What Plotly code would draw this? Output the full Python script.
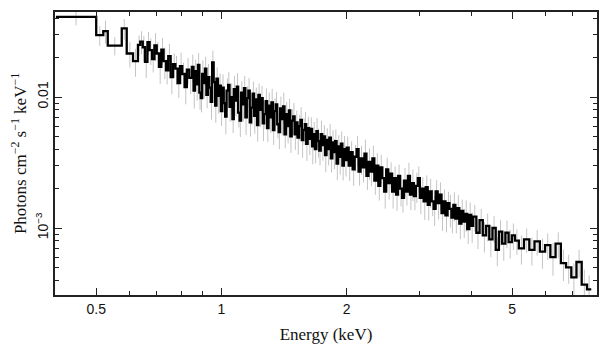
import plotly.graph_objects as go
import numpy as np

# Bin edges (keV)
bin_edges = [
    0.40, 0.50, 0.52, 0.533, 0.576, 0.592, 0.613, 0.630, 0.638,
    0.647, 0.655, 0.664, 0.672, 0.681, 0.690, 0.699, 0.708, 0.717, 0.726,
    0.736, 0.745, 0.755, 0.765, 0.775, 0.785, 0.795, 0.805, 0.816, 0.826, 0.837,
    0.850, 0.857, 0.864, 0.871, 0.878, 0.885, 0.892, 0.899, 0.906, 0.913,
    0.920, 0.928, 0.935, 0.943, 0.950, 0.958, 0.966, 0.973, 0.981, 0.989,
    0.997, 1.005, 1.013, 1.021, 1.029, 1.038, 1.046, 1.054, 1.063, 1.071,
    1.080, 1.089, 1.097, 1.106, 1.115, 1.124, 1.133, 1.142, 1.151, 1.161,
    1.170, 1.179, 1.189, 1.198, 1.208, 1.218, 1.227, 1.237, 1.247, 1.257,
    1.267, 1.278, 1.288, 1.298, 1.309, 1.319, 1.330, 1.341, 1.351, 1.362,
    1.373, 1.384, 1.396, 1.407, 1.418, 1.430, 1.441, 1.453, 1.464, 1.476,
    1.488, 1.500, 1.512, 1.524, 1.537, 1.549, 1.561, 1.574, 1.587, 1.599,
    1.612, 1.625, 1.638, 1.652, 1.665, 1.678, 1.692, 1.705, 1.719, 1.733,
    1.747, 1.761, 1.775, 1.789, 1.804, 1.818, 1.833, 1.848, 1.862, 1.877,
    1.892, 1.908, 1.923, 1.938, 1.954, 1.970, 1.985,
    2.001, 2.023, 2.045, 2.068, 2.091, 2.114, 2.137, 2.160, 2.184, 2.208,
    2.232, 2.257, 2.282, 2.307, 2.332, 2.358, 2.384, 2.410, 2.436, 2.463,
    2.490, 2.518, 2.545, 2.573, 2.602, 2.630, 2.659, 2.689, 2.718, 2.748,
    2.778, 2.809, 2.840, 2.871, 2.903, 2.935, 2.967, 3.000, 3.033, 3.066,
    3.100, 3.134, 3.168, 3.203, 3.238, 3.274, 3.310, 3.346, 3.383, 3.420,
    3.458, 3.496, 3.534, 3.573, 3.612, 3.652, 3.692, 3.733, 3.774, 3.815,
    3.857, 3.900, 3.943, 3.986,
    4.030, 4.102, 4.176, 4.251, 4.328, 4.406, 4.485, 4.566, 4.648, 4.732,
    4.817, 4.904, 4.992,
    5.08, 5.19, 5.34, 5.50, 5.66, 5.83, 6.00, 6.18, 6.36, 6.55, 6.74, 6.94,
    7.14, 7.35, 7.57, 7.75,
]

# Flux (photons cm^-2 s^-1 keV^-1) per bin
flux = [
    0.0410, 0.0297, 0.0319, 0.0247, 0.0334, 0.0215, 0.0188, 0.0250, 0.0265,
    0.0240, 0.0186, 0.0262, 0.0228, 0.0195, 0.0248, 0.0215, 0.0170, 0.0230, 0.0188,
    0.0160, 0.0205, 0.0142, 0.0178, 0.0165, 0.0128, 0.0172, 0.0150, 0.0119, 0.0162, 0.0140,
    0.0170, 0.0112, 0.0158, 0.0125, 0.0176, 0.0108, 0.0098, 0.0150, 0.0128, 0.0165,
    0.0104, 0.0142, 0.0118, 0.0092, 0.0184, 0.0130, 0.0086, 0.0138, 0.0102, 0.0122,
    0.0078, 0.0118, 0.0090, 0.0071, 0.0112, 0.0124, 0.0084, 0.0100, 0.0068, 0.0115,
    0.0094, 0.0120, 0.0076, 0.0066, 0.0108, 0.0088, 0.0117, 0.0070, 0.0098, 0.0112,
    0.0064, 0.0083, 0.0106, 0.0072, 0.0096, 0.0061, 0.0104, 0.0080, 0.0098, 0.0063,
    0.0074, 0.0093, 0.0058, 0.0086, 0.0070, 0.0091, 0.0056, 0.0078, 0.0088, 0.0062,
    0.0054, 0.0082, 0.0068, 0.0085, 0.0052, 0.0074, 0.0060, 0.0079, 0.0050, 0.0066,
    0.0071, 0.0052, 0.0064, 0.0049, 0.0060, 0.0067, 0.0047, 0.0056, 0.0062, 0.0044,
    0.0058, 0.0048, 0.0057, 0.0042, 0.0052, 0.0040, 0.0055, 0.0046, 0.0039, 0.0052,
    0.0043, 0.0050, 0.0036, 0.0047, 0.0040, 0.0049, 0.0034, 0.0045, 0.0038, 0.0046,
    0.0031, 0.0042, 0.0035, 0.0044, 0.0030, 0.0040, 0.0033,
    0.0041, 0.0030, 0.0038, 0.0028, 0.0035, 0.0040, 0.0027, 0.0034, 0.0029, 0.0037,
    0.0025, 0.0032, 0.0027, 0.0034, 0.0023, 0.0030, 0.0021, 0.0029, 0.0024, 0.0019,
    0.0028, 0.0022, 0.0026, 0.0019, 0.0024, 0.0018, 0.0025, 0.0020, 0.0017, 0.0023,
    0.0019, 0.0025, 0.0018, 0.0022, 0.00175, 0.0021, 0.0024, 0.0017, 0.0020, 0.0016,
    0.00205, 0.0015, 0.0019, 0.0016, 0.0014, 0.0019, 0.00155, 0.0018, 0.0013, 0.0016,
    0.00125, 0.00155, 0.0014, 0.0012, 0.0015, 0.00118, 0.00142, 0.00108, 0.00135, 0.00112,
    0.00128, 0.00098, 0.00126, 0.00104,
    0.00122, 0.00092, 0.00115, 0.00088, 0.00104, 0.00082, 0.00100, 0.00068, 0.00094, 0.00076,
    0.00092, 0.00078, 0.00088,
    0.00080, 0.00070, 0.00082, 0.00068, 0.00079, 0.00066, 0.00074, 0.00060, 0.00076,
    0.00054, 0.00050, 0.00042, 0.00055, 0.00037, 0.00034,
]

# 1-sigma error as percent of flux
err_pct = [
    14, 17, 20, 16, 18, 22, 24, 18, 20,
    22, 25, 20, 23, 21, 24, 22, 26, 23, 27, 22, 24, 26, 21, 25, 23, 27, 22, 26, 23, 25,
    24, 27, 22, 25, 23, 26, 22, 27, 24, 23,
    21, 26, 24, 27, 23, 25, 26, 22, 27, 24,
    23, 26, 22, 27, 24, 25, 23, 27, 22, 26,
    24, 27, 23, 25, 22, 26, 24, 27, 23, 25,
    22, 26, 24, 27, 23, 25, 22, 26, 24, 27,
    23, 25, 22, 26, 24, 27, 23, 25, 24, 22,
    26, 23, 25, 27, 22, 24, 26, 23, 25, 22,
    27, 24, 23, 26, 22, 25, 27, 23, 24, 26,
    22, 25, 23, 27, 24, 22, 26, 25, 23, 27,
    24, 22, 26, 23, 25, 27, 22, 24, 26, 23,
    25, 22, 27, 24, 23, 26, 25,
    22, 24, 21, 25, 23, 26, 22, 25, 23, 28,
    22, 27, 23, 25, 22, 24, 23, 25, 22, 26,
    23, 25, 22, 26, 23, 25, 22, 27, 23, 25,
    22, 26, 24, 27, 22, 26, 23, 25, 22, 28,
    23, 24, 25, 23, 26, 22, 25, 24, 27, 23,
    26, 22, 28, 24, 25, 23, 26, 24, 22, 25,
    27, 23, 24, 26,
    23, 25, 22, 26, 24, 27, 23, 25, 22, 26, 24, 25, 23,
    22, 25, 21, 24, 22, 26, 23, 28, 22, 27, 25, 28, 24, 30, 28,
]

assert len(bin_edges) == len(flux) + 1 == len(err_pct) + 1

x_ticks = [0.5, 1, 2, 5]
x_tick_text = ["0.5", "1", "2", "5"]
x_minor = [0.4, 0.6, 0.7, 0.8, 0.9, 3, 4, 6, 7, 8]
y_ticks = [0.01, 0.001]
y_tick_text = ["0.01", "10<sup>\u22123</sup>"]
y_minor = [0.0004, 0.0005, 0.0006, 0.0007, 0.0008, 0.0009,
           0.002, 0.003, 0.004, 0.005, 0.006, 0.007, 0.008, 0.009,
           0.02, 0.03, 0.04]

edges = np.array(bin_edges)
vals = np.array(flux)
centers = np.sqrt(edges[:-1] * edges[1:])
errs = vals * np.array(err_pct) / 100.0

fig = go.Figure()
fig.add_trace(go.Scatter(
    x=centers, y=vals, mode="markers",
    marker=dict(size=0.1, color="rgba(0,0,0,0)"),
    error_y=dict(type="data", array=errs, color="#c4c4c4", thickness=1, width=0),
    showlegend=False, hoverinfo="skip",
))
fig.add_trace(go.Scatter(
    x=list(edges), y=list(vals) + [vals[-1]], mode="lines",
    line=dict(shape="hv", color="black", width=2.3),
    showlegend=False,
))

title_font = dict(family="Liberation Serif, Times New Roman, serif", size=17, color="#111")

axis_common = dict(
    showgrid=False, zeroline=False, showline=True, linecolor="#222",
    linewidth=1.6, mirror="allticks", ticks="inside", tickcolor="#222",
    tickwidth=1.3, automargin=False,
    tickfont=dict(family="Liberation Sans, Arial, sans-serif", size=14, color="#111"),
)

fig.update_xaxes(
    type="log", range=[np.log10(0.398), np.log10(8.0)],
    tickvals=x_ticks, ticktext=x_tick_text, ticklen=7,
    minor=dict(tickvals=x_minor, ticklen=4, ticks="inside", tickcolor="#222", tickwidth=1.2),
    title=dict(text="Energy (keV)", font=title_font, standoff=13),
    **axis_common,
)
fig.update_yaxes(
    type="log", range=[np.log10(3.08e-4), np.log10(0.0446)],
    tickvals=y_ticks, ticktext=y_tick_text, ticklen=7, tickangle=-90,
    minor=dict(tickvals=y_minor, ticklen=4, ticks="inside", tickcolor="#222", tickwidth=1.2),
    title=dict(text="Photons cm<sup>\u22122</sup> s<sup>\u22121</sup> keV<sup>\u22121</sup>",
               font=title_font, standoff=4),
    **axis_common,
)

# The page adds an 8 px body margin, so the figure is sized to sit inside the window
fig.update_layout(
    width=600, height=349,
    margin=dict(l=47, r=11, t=4, b=62),
    plot_bgcolor="white", paper_bgcolor="white",
)

fig.write_html("out.html")
